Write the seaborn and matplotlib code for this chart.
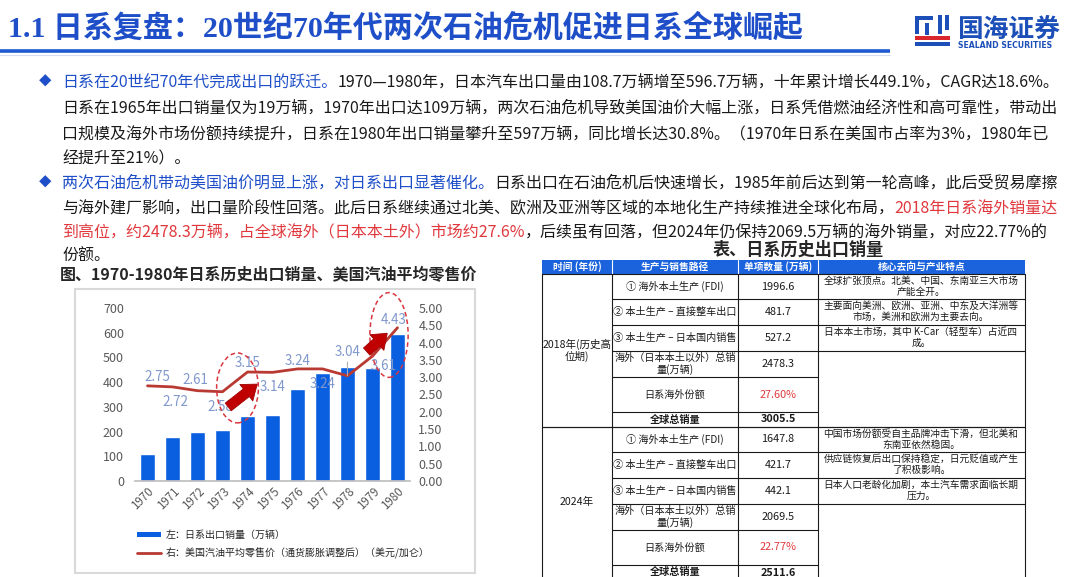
import numpy as np
import pandas as pd
import matplotlib
matplotlib.use("Agg")
import matplotlib.pyplot as plt
import seaborn as sns
from matplotlib.patches import Rectangle, Ellipse, FancyArrowPatch, Patch
from matplotlib.lines import Line2D
from matplotlib.ticker import FormatStrFormatter

# ─── data ────────────────────────────────────────────
years = ["1970", "1971", "1972", "1973", "1974", "1975",
         "1976", "1977", "1978", "1979", "1980"]
exports = [108.7, 177.9, 196.5, 206.7, 261.8, 267.8, 371.0, 435.3, 460.1, 456.2, 596.7]
gas_price = [2.75, 2.72, 2.61, 2.58, 3.15, 3.14, 3.24, 3.24, 3.04, 3.61, 4.43]

tbl_header = ["时间 (年份)", "生产与销售路径", "单项数量 (万辆)", "核心去向与产业特点"]
tbl_years = ["2018年(历史高\n位期)", "2024年"]
tbl_paths = ["① 海外本土生产 (FDI)", "② 本土生产 – 直接整车出口", "③ 本土生产 – 日本国内销售",
             "海外（日本本土以外）总销\n量(万辆)", "日系海外份额", "全球总销量"]
vals_2018 = ["1996.6", "481.7", "527.2", "2478.3", "27.60%", "3005.5"]
vals_2024 = ["1647.8", "421.7", "442.1", "2069.5", "22.77%", "2511.6"]
notes_2018 = [["全球扩张顶点。北美、中国、东南亚三大市场", "产能全开。"],
              ["主要面向美洲、欧洲、亚洲、中东及大洋洲等", "市场，美洲和欧洲为主要去向。"],
              ["日本本土市场，其中 K-Car（轻型车）占近四", "成。"]]
notes_2024 = [["中国市场份额受自主品牌冲击下滑，但北美和", "东南亚依然稳固。"],
              ["供应链恢复后出口保持稳定，日元贬值或产生", "了积极影响。"],
              ["日本人口老龄化加剧，本土汽车需求面临长期", "压力。"]]

BLUE_T = "#1f4fc8"
BAR = "#0a5fe0"
LINE = "#b83a33"
RED = "#e0383d"
LBL = "#7f97cc"
DARK = "#1a1a1a"

sns.set_theme(style="white")
plt.rcParams["font.family"] = ["Noto Sans CJK SC", "DejaVu Sans"]
plt.rcParams["axes.unicode_minus"] = False

W, H = 1080, 577
fig = plt.figure(figsize=(10.8, 5.77), dpi=100)
ov = fig.add_axes([0, 0, 1, 1], zorder=0)
ov.set_xlim(0, W)
ov.set_ylim(H, 0)
ov.axis("off")
rend = fig.canvas.get_renderer()

# ─── header ──────────────────────────────────────────
ov.text(8, 28, "1.1 日系复盘：20世纪70年代两次石油危机促进日系全球崛起", fontsize=21.6,
        fontweight="bold", color=BLUE_T, va="center",
        family=["Liberation Serif", "Noto Sans CJK SC"])
ov.plot([0, 890], [51, 51], color="#1f5bd0", lw=2.6, solid_capstyle="butt")
ov.plot([0, 890], [55, 55], color="#d3ddf3", lw=0.8)

# logo
for x, y, w, h, c in [(915, 16, 18, 4, "#1c4fb8"), (915, 20, 4, 14, "#1c4fb8"),
                      (925, 23, 4, 12, "#1c4fb8"), (938, 15, 4, 19, "#1c4fb8"),
                      (945, 15, 4, 15, "#1c4fb8"), (915, 36, 35, 4, "#d9262c"),
                      (915, 42, 35, 4, "#1c4fb8")]:
    ov.add_patch(Rectangle((x, y), w, h, fc=c, ec="none"))
ov.text(957, 29, "国海证券", fontsize=18.5, fontweight="bold", color="#1c4fb8", va="center")
ov.text(958, 46, "SEALAND SECURITIES", fontsize=5.6, fontweight="bold", color="#1c4fb8",
        va="center", family=["DejaVu Sans"])


# ─── paragraphs ──────────────────────────────────────
def rich_line(x, y, parts, size=11.5):
    for s, c in parts:
        t = ov.text(x, y, s, color=c, fontsize=size, ha="left", va="center")
        x += t.get_window_extent(rend).width
    return x


p1 = [
    [("日系在20世纪70年代完成出口的跃迁。", BLUE_T),
     ("1970—1980年，日本汽车出口量由108.7万辆增至596.7万辆，十年累计增长449.1%，CAGR达18.6%。", DARK)],
    [("日系在1965年出口销量仅为19万辆，1970年出口达109万辆，两次石油危机导致美国油价大幅上涨，日系凭借燃油经济性和高可靠性，带动出", DARK)],
    [("口规模及海外市场份额持续提升，日系在1980年出口销量攀升至597万辆，同比增长达30.8%。（1970年日系在美国市占率为3%，1980年已", DARK)],
    [("经提升至21%）。", DARK)],
]
p2 = [
    [("两次石油危机带动美国油价明显上涨，对日系出口显著催化。", BLUE_T),
     ("日系出口在石油危机后快速增长，1985年前后达到第一轮高峰，此后受贸易摩擦", DARK)],
    [("与海外建厂影响，出口量阶段性回落。此后日系继续通过北美、欧洲及亚洲等区域的本地化生产持续推进全球化布局，", DARK),
     ("2018年日系海外销量达", RED)],
    [("到高位，约2478.3万辆，占全球海外（日本本土外）市场约27.6%", RED),
     ("，后续虽有回落，但2024年仍保持2069.5万辆的海外销量，对应22.77%的", DARK)],
    [("份额。", DARK)],
]
for (para, ys) in [(p1, [82, 108, 134, 159]), (p2, [183, 209, 232, 256])]:
    ov.text(45, ys[0], "◆", color=BLUE_T, fontsize=9, ha="center", va="center")
    for parts, y in zip(para, ys):
        rich_line(62, y, parts)

# ─── chart ───────────────────────────────────────────
ov.text(60, 275, "图、1970-1980年日系历史出口销量、美国汽油平均零售价", fontsize=11.5,
        fontweight="bold", color="#262626", va="center")
ov.add_patch(Rectangle((75, 289), 400, 284, fc="white", ec="#d9d9d9", lw=1.5))

df = pd.DataFrame({"year": years, "export": exports, "price": gas_price})
ax = fig.add_axes([135 / W, 1 - 481 / H, 275 / W, 173 / H], zorder=2)
ax.patch.set_alpha(0)
sns.barplot(data=df, x="year", y="export", color=BAR, saturation=1, width=0.63, ax=ax)
ax.set_xlim(-0.5, 10.5)
ax.set_ylim(0, 700)
ax.set_yticks(range(0, 701, 100))
ax.set_xlabel("")
ax.set_ylabel("")
ax.set_xticks(np.arange(-0.5, 11, 1), minor=True)
ax.tick_params(axis="x", which="major", length=0, labelsize=8.3, labelcolor="#595959", pad=3)
ax.tick_params(axis="x", which="minor", length=4, color="#bfbfbf", width=0.8)
ax.tick_params(axis="y", length=0, labelsize=9, labelcolor="#595959", pad=8)
for lbl in ax.get_xticklabels():
    lbl.set_rotation(45)
    lbl.set_ha("right")
    lbl.set_va("top")
    lbl.set_rotation_mode("anchor")
for s in ["left", "right", "top"]:
    ax.spines[s].set_visible(False)
ax.spines["bottom"].set_color("#bfbfbf")

ax2 = ax.twinx()
sns.lineplot(x=np.arange(len(years)), y=df["price"], color=LINE, lw=2, ax=ax2)
ax2.set_xlim(-0.5, 10.5)
ax2.set_ylim(0, 5)
ax2.set_yticks(np.arange(0, 5.01, 0.5))
ax2.yaxis.set_major_formatter(FormatStrFormatter("%.2f"))
ax2.tick_params(axis="y", length=0, labelsize=9, labelcolor="#595959", pad=6)
ax2.set_ylabel("")
for s in ax2.spines.values():
    s.set_visible(False)
ax.grid(False)
ax2.grid(False)

# data labels (pixel offsets from point)
offsets = [(10, 9), (3, -15), (-2, 11), (-2, -15), (0, 9), (0, -15),
           (0, 8), (0, -15), (0, 24), (11, -10), (-4, 8)]
for i, (v, (dx, dy)) in enumerate(zip(gas_price, offsets)):
    kw = {}
    if abs(dy) > 20:
        kw["arrowprops"] = dict(arrowstyle="-", color="#b0b0b0", lw=0.8, shrinkA=0, shrinkB=0)
    ax2.annotate(f"{v:.2f}", (i, v), xytext=(dx * 0.72, dy * 0.72), textcoords="offset points",
                 ha="center", va="center", fontsize=9.6, color=LBL, zorder=5, **kw)

# highlight ellipses and arrows
for cx, cy, w, h in [(3.6, 2.69, 1.67, 2.02), (9.66, 4.22, 1.53, 2.45)]:
    ax2.add_patch(Ellipse((cx, cy), w, h, fill=False, ec="#d9363e", lw=1.1,
                          ls=(0, (3, 2)), clip_on=False, zorder=6))
for a, b in [((3.23, 2.14), (4.39, 2.80)), ((8.77, 3.74), (9.59, 4.27))]:
    ax2.add_patch(FancyArrowPatch(a, b, arrowstyle="simple,head_length=1.0,head_width=1.5,tail_width=0.7",
                                  mutation_scale=10, fc="#c00000", ec="#a00000", lw=0.6,
                                  shrinkA=0, shrinkB=0, clip_on=False, zorder=7))

fig.legend(handles=[Patch(fc=BAR, ec="none"), Line2D([], [], color=LINE, lw=2)],
           labels=["左：日系出口销量（万辆）", "右：美国汽油平均零售价（通货膨胀调整后）（美元/加仑）"],
           loc="upper left", bbox_to_anchor=(132 / W, 1 - 525 / H), frameon=False,
           fontsize=7.2, handlelength=2.4, handleheight=0.5, handletextpad=0.5,
           labelspacing=0.75, labelcolor="#262626", borderpad=0)

# ─── table ───────────────────────────────────────────
ov.text(798, 250, "表、日系历史出口销量", fontsize=12.3, fontweight="bold", color="#262626",
        ha="center", va="center")
cols = [542, 612, 738, 818, 1025]
ov.add_patch(Rectangle((542, 260), 1025 - 542, 14, fc="#1a63dc", ec="none"))
for i, h in enumerate(tbl_header):
    ov.text((cols[i] + cols[i + 1]) / 2, 267, h, fontsize=7, fontweight="bold",
            color="white", ha="center", va="center")
for x in cols[1:-1]:
    ov.plot([x, x], [260, 274], color="white", lw=0.8)

row_h = [25, 26, 26, 26, 35, 15]
blocks = [(274, tbl_years[0], vals_2018, notes_2018), (427, tbl_years[1], vals_2024, notes_2024)]
lc = dict(color="#1a1a1a", lw=0.8)
for top, yr, vals, notes in blocks:
    edges = np.concatenate([[top], top + np.cumsum(row_h)])
    bot = edges[-1]
    ov.plot([542, 1025], [top, top], **lc)
    ov.plot([542, 1025], [bot, bot], **lc)
    for x in cols:
        ov.plot([x, x], [top, bot], **lc)
    for j, e in enumerate(edges[1:-1]):
        ov.plot([612, 818], [e, e], **lc)
        if j < 3:
            ov.plot([818, 1025], [e, e], **lc)
    ymid = (top + bot) / 2 if yr.startswith("2018") else top + 75
    ov.text(577, ymid, yr, fontsize=7.6, color=DARK, ha="center", va="center",
            multialignment="center", linespacing=1.15)
    for j, (path, val) in enumerate(zip(tbl_paths, vals)):
        yc = (edges[j] + edges[j + 1]) / 2
        wt = "bold" if j == 5 else "normal"
        ov.text(675, yc, path, fontsize=7.3, color=DARK, ha="center", va="center",
                multialignment="center", linespacing=1.1, fontweight=wt)
        vc = RED if val.endswith("%") else DARK
        ov.text(778, yc, val, fontsize=7.8, color=vc, ha="center", va="center", fontweight=wt)
    for j, lines in enumerate(notes):
        for k, s in enumerate(lines):
            ov.text(921, edges[j] + 7 + 11 * k, s, fontsize=7, color=DARK,
                    ha="center", va="center")

fig.savefig("out.png", dpi=100)
